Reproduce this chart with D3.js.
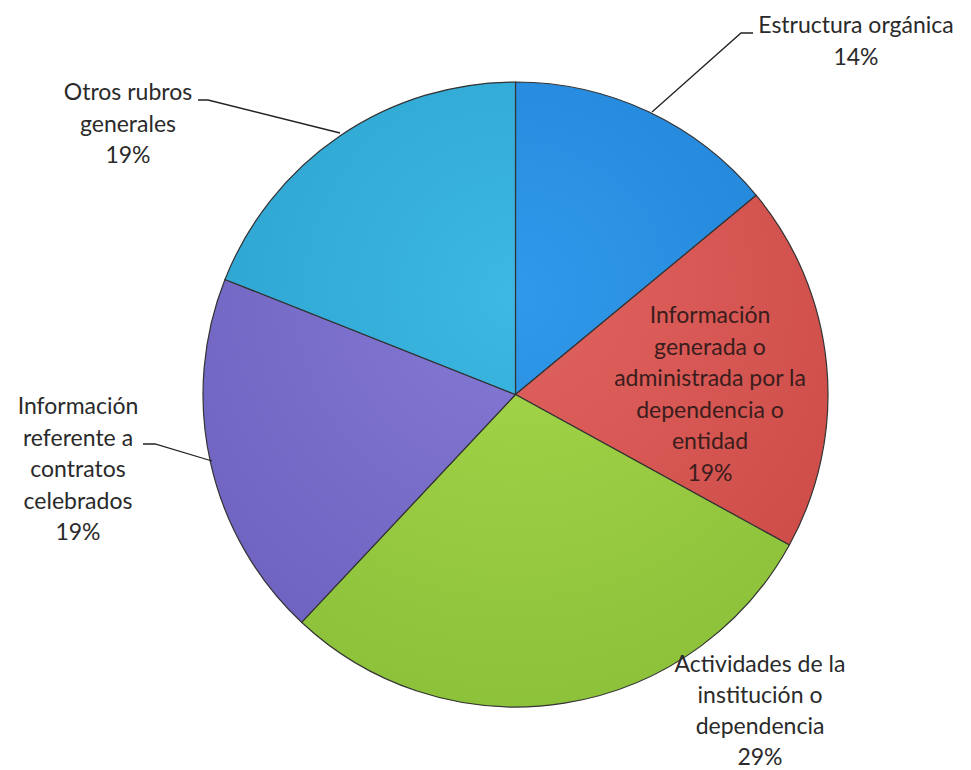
<!DOCTYPE html>
<html><head><meta charset="utf-8">
<script src="https://cdn.jsdelivr.net/npm/d3@7"></script>
<style>body{margin:0;background:#fff}svg{display:block}</style>
</head><body>
<svg id="c" width="971" height="770"></svg>
<script>
const categories = ["Estructura orgánica","Información generada o administrada por la dependencia o entidad","Actividades de la institución o dependencia","Información referente a contratos celebrados","Otros rubros generales"];
const values = [14, 19, 29, 19, 19];
const labelLines = [
  ["Estructura orgánica","14%"],
  ["Información","generada o","administrada por la","dependencia o","entidad","19%"],
  ["Actividades de la","institución o","dependencia","29%"],
  ["Información","referente a","contratos","celebrados","19%"],
  ["Otros rubros","generales","19%"]
];
const colorsTop = ["#3099ea","#e06360","#a6d64a","#8479d4","#3cb8e2"];
const colorsBot = ["#1f80d4","#cc4a46","#8cc13a","#6e62c0","#2aa0cc"];

const svg = d3.select("#c");
const cx = 515.5, cy = 394.5, R = 312.5;
const defs = svg.append("defs");
colorsTop.forEach((c,i)=>{
  const gr = defs.append("radialGradient").attr("id","g"+i)
    .attr("gradientUnits","userSpaceOnUse").attr("cx",0).attr("cy",-100).attr("r",R*1.35);
  gr.append("stop").attr("offset","0%").attr("stop-color",c);
  gr.append("stop").attr("offset","100%").attr("stop-color",colorsBot[i]);
});
const pie = d3.pie().sort(null).value(d=>d)(values);
const arc = d3.arc().innerRadius(0).outerRadius(R);
const g = svg.append("g").attr("transform",`translate(${cx},${cy})`);
g.selectAll("path").data(pie).join("path")
  .attr("d",arc)
  .attr("fill",(d,i)=>`url(#g${i})`)
  .attr("stroke","#333").attr("stroke-width",1.2).attr("stroke-linejoin","round");

const labelPos = [
  {x:856, y:33, leader:[[652,112],[741,33],[753,33]]},
  {x:710, y:323},
  {x:760, y:672, lh:31},
  {x:78,  y:414, leader:[[212,461],[155,444],[143,444]]},
  {x:128, y:100, leader:[[340,133],[208,100],[198,100]]}
];
labelLines.forEach((lines,i)=>{
  const p = labelPos[i];
  const lh = p.lh || 31.5;
  if (p.leader) {
    svg.append("path").attr("d",d3.line()(p.leader)).attr("fill","none")
      .attr("stroke","#222").attr("stroke-width",1.3);
  }
  const t = svg.append("text").attr("text-anchor","middle")
    .attr("font-family","Lato, 'Open Sans', sans-serif").attr("font-size",23)
    .attr("fill", i===1 ? "#3a1d1c" : "#2a2a2a");
  lines.forEach((l,k)=>t.append("tspan").attr("x",p.x).attr("y",p.y+k*lh).text(l));
});
</script>
</body></html>
